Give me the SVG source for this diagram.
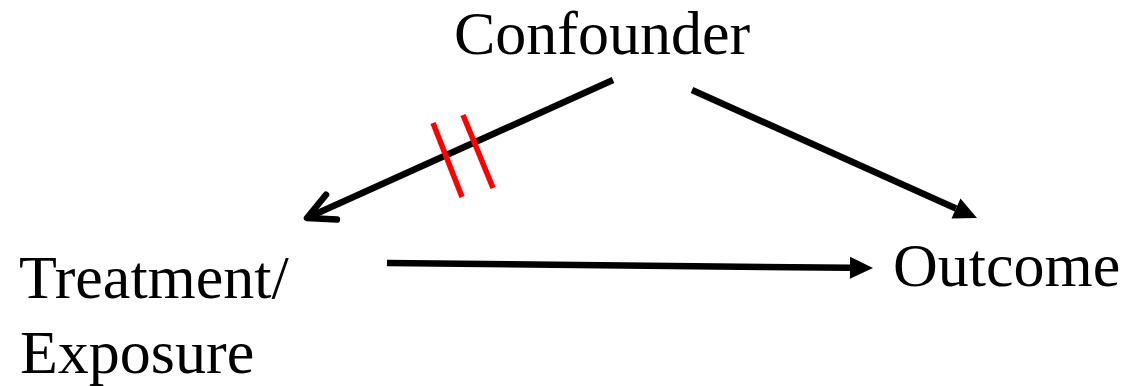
<svg xmlns="http://www.w3.org/2000/svg" width="1128" height="386" viewBox="0 0 1128 386">
<style>
.lbl{font-family:"Liberation Serif","Times New Roman",serif;font-size:62px;fill:#000}
.edge{stroke:#000;stroke-width:6.5;fill:none}
.cut{stroke:#ff0000;stroke-width:5.5;fill:none}
</style>
<defs>
<marker id="tri" markerUnits="userSpaceOnUse" markerWidth="24" markerHeight="22" refX="0" refY="11" orient="auto" overflow="visible">
<path d="M0,0 L23,11 L0,22 z" fill="#000"/>
</marker>
</defs>
<rect width="1128" height="386" fill="#fff"/>
<g id="node-confounder"><text class="lbl" x="454" y="54">Confounder</text></g>
<g id="node-treatment"><text class="lbl" x="19" y="298">Treatment/</text><text class="lbl" x="20" y="373">Exposure</text></g>
<g id="node-outcome"><text class="lbl" x="893" y="286">Outcome</text></g>
<g id="connectors">
<line class="edge" x1="613" y1="80" x2="309" y2="217"/>
<polyline class="edge" points="326,194.7 307,218 337,219.6" stroke-linecap="round" stroke-linejoin="round"/>
<line class="cut" x1="433" y1="123" x2="462" y2="197"/>
<line class="cut" x1="463" y1="115" x2="493" y2="188"/>
<line class="edge" x1="692" y1="90" x2="956" y2="208.5" marker-end="url(#tri)"/>
<line class="edge" x1="387" y1="263" x2="850" y2="267.8" marker-end="url(#tri)"/>
</g>
</svg>
